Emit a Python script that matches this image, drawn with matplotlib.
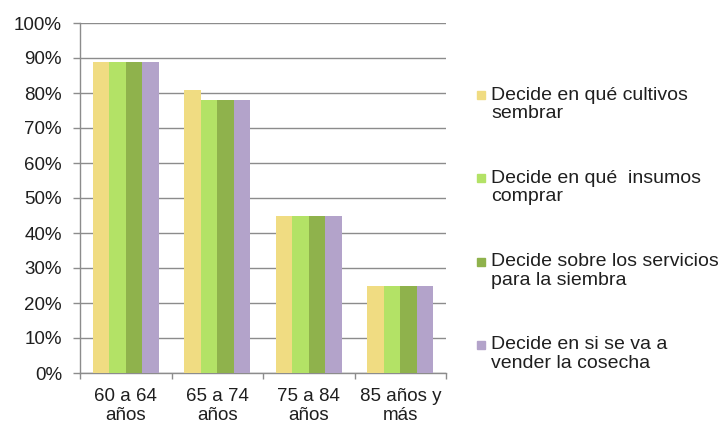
import matplotlib
matplotlib.use("Agg")
import matplotlib.pyplot as plt
import numpy as np
from matplotlib.ticker import FixedLocator, PercentFormatter
from matplotlib.patches import Rectangle

plt.rcParams['font.family'] = ['Liberation Sans', 'DejaVu Sans']

categories = ["60 a 64\naños", "65 a 74\naños", "75 a 84\naños", "85 años y\nmás"]
series_names = ["Decide en qué cultivos\nsembrar",
                "Decide en qué  insumos\ncomprar",
                "Decide sobre los servicios\npara la siembra",
                "Decide en si se va a\nvender la cosecha"]
s1 = [89, 81, 45, 25]
s2 = [89, 78, 45, 25]
s3 = [89, 78, 45, 25]
s4 = [89, 78, 45, 25]
series = [s1, s2, s3, s4]
colors = ["#F0DC82", "#B3E266", "#8FB24C", "#B3A3CA"]
yticks = [0, 10, 20, 30, 40, 50, 60, 70, 80, 90, 100]

W, H = 728, 428
fig = plt.figure(figsize=(W/100, H/100), dpi=100)
ax = fig.add_axes([80/W, 1-373/H, 366/W, 350/H])

x = np.arange(len(categories))
group_w = 0.72
bw = group_w / len(series)
for i, (vals, c) in enumerate(zip(series, colors)):
    ax.bar(x - group_w/2 + bw*(i+0.5), vals, width=bw, color=c, zorder=3)

fs = 13.5
tc = '#1f1f1f'
ax.set_xlim(-0.5, len(categories)-0.5)
ax.set_ylim(0, 100)
ax.set_yticks(yticks)
ax.yaxis.set_major_formatter(PercentFormatter(decimals=0))
ax.grid(axis='y', color='#8c8c8c', linewidth=1, zorder=0)
ax.set_xticks(x)
ax.set_xticklabels(categories, linespacing=1.1)
ax.xaxis.set_minor_locator(FixedLocator(np.arange(-0.5, len(categories), 1.0)))
ax.tick_params(axis='x', which='major', length=0, pad=11)
ax.tick_params(axis='x', which='minor', length=4, color='#8c8c8c', width=1)
ax.tick_params(axis='y', length=5, color='#8c8c8c', width=1, pad=8)
ax.tick_params(labelsize=fs, labelcolor=tc)
for s in ['top', 'right']:
    ax.spines[s].set_visible(False)
for s in ['left', 'bottom']:
    ax.spines[s].set_color('#8c8c8c')
    ax.spines[s].set_linewidth(1)

# legend drawn manually: marker aligned with first line of each entry
y0, dy, ls = 95, 83.3, 18.5
for i, (name, c) in enumerate(zip(series_names, colors)):
    yc = y0 + dy*i
    fig.patches.append(Rectangle((477/W, 1-(yc+4)/H), 8/W, 8/H,
                                 transform=fig.transFigure, color=c))
    for j, line in enumerate(name.split("\n")):
        fig.text(491/W, 1-(yc + ls*j)/H, line, fontsize=14, color=tc,
                 ha='left', va='center')

fig.savefig("out.png", dpi=100)
